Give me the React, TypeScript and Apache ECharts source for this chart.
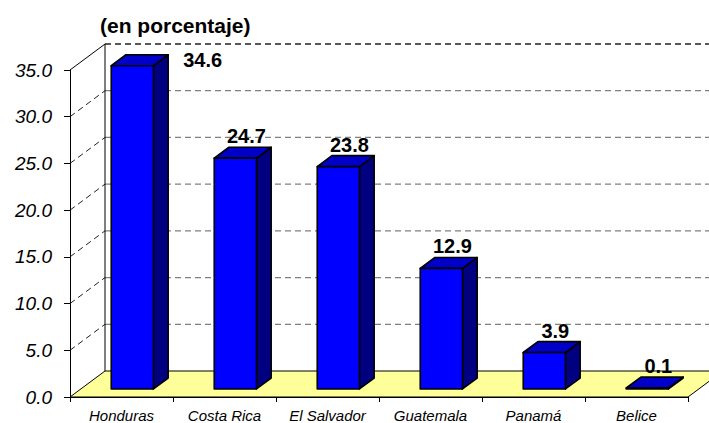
import React, { useEffect, useRef } from "react";
import * as echarts from "echarts";

const categories = ["Honduras", "Costa Rica", "El Salvador", "Guatemala", "Panamá", "Belice"];
const values = [34.6, 24.7, 23.8, 12.9, 3.9, 0.1];
const yTicks = [0, 5, 10, 15, 20, 25, 30, 35];
const titleText = "(en porcentaje)";

const FONT = "'Liberation Sans', Arial, Helvetica, sans-serif";
const DEPTH_X = 35;
const DEPTH_Y = -26;
const BAR_FRONT = 0.31;
const BAR_DEPTH = 0.42;
const BAR_WIDTH = 0.41;

export default function App() {
  const ref = useRef<HTMLDivElement>(null);

  useEffect(() => {
    const chart = echarts.init(ref.current!, null, { renderer: "svg" });
    const yMax = yTicks[yTicks.length - 1];

    const wallsItem = (params: any, api: any) => {
      const cs = params.coordSys;
      const x0 = cs.x;
      const x1 = cs.x + cs.width;
      const yOf = (v: number) => api.coord([0, v])[1];
      const yb = yOf(0);
      const children: any[] = [];
      children.push({
        type: "polygon",
        shape: { points: [[x0, yb], [x1, yb], [x1 + DEPTH_X, yb + DEPTH_Y], [x0 + DEPTH_X, yb + DEPTH_Y]] },
        style: { fill: "#FFFF99", stroke: "#000", lineWidth: 1 },
      });
      yTicks.forEach((v) => {
        if (v === 0) return;
        const y = yOf(v);
        const top = v === yMax;
        children.push({
          type: "line",
          shape: { x1: x0 + DEPTH_X, y1: y + DEPTH_Y, x2: x1 + DEPTH_X, y2: y + DEPTH_Y },
          style: { stroke: top ? "#222" : "#808080", lineWidth: top ? 1.5 : 1.2, lineDash: [6, 4] },
        });
        children.push({
          type: "line",
          shape: { x1: x0, y1: y, x2: x0 + DEPTH_X, y2: y + DEPTH_Y },
          style: top
            ? { stroke: "#000", lineWidth: 1 }
            : { stroke: "#222", lineWidth: 1, lineDash: [6, 4] },
        });
      });
      children.push({
        type: "line",
        shape: { x1: x0 + DEPTH_X, y1: yb + DEPTH_Y, x2: x0 + DEPTH_X, y2: yOf(yMax) + DEPTH_Y },
        style: { stroke: "#000", lineWidth: 1 },
      });
      return { type: "group", children };
    };

    const barItem = (params: any, api: any) => {
      const idx = api.value(0);
      const val = api.value(1);
      const [cx, yTop] = api.coord([idx, val]);
      const yBase = api.coord([idx, 0])[1];
      const cw = api.size([1, 0])[0];
      const w = cw * BAR_WIDTH;
      const fx = DEPTH_X * BAR_FRONT;
      const fy = DEPTH_Y * BAR_FRONT;
      const dx = DEPTH_X * BAR_DEPTH;
      const dy = DEPTH_Y * BAR_DEPTH;
      const L = cx - w / 2 + fx;
      const R = cx + w / 2 + fx;
      const B = yBase + fy;
      const T = yTop + fy;
      const stroke = { stroke: "#000", lineWidth: 1.6, lineJoin: "round" };
      const backTop = T + dy;
      const text = val.toFixed(1);
      const font = `bold 20px ${FONT}`;
      let label: any;
      if (backTop - 22 < params.coordSys.y + DEPTH_Y) {
        label = {
          type: "text",
          x: R + dx + 15,
          y: (T + backTop) / 2,
          style: { text, font, fill: "#000", align: "left", verticalAlign: "middle", textAlign: "left", textVerticalAlign: "middle" },
        };
      } else {
        label = {
          type: "text",
          x: (L + R) / 2 + 11,
          y: backTop - 1,
          style: { text, font, fill: "#000", align: "center", verticalAlign: "bottom", textAlign: "center", textVerticalAlign: "bottom" },
        };
      }
      return {
        type: "group",
        children: [
          { type: "polygon", shape: { points: [[R, T], [R + dx, T + dy], [R + dx, B + dy], [R, B]] }, style: { fill: "#000080", ...stroke } },
          { type: "polygon", shape: { points: [[L, T], [R, T], [R + dx, T + dy], [L + dx, T + dy]] }, style: { fill: "#0000C8", ...stroke } },
          { type: "polygon", shape: { points: [[L, T], [R, T], [R, B], [L, B]] }, style: { fill: "#0000FF", ...stroke } },
          label,
        ],
      };
    };

    const option: any = {
      animation: false,
      backgroundColor: "#ffffff",
      grid: { left: 70, right: 21, top: 70, bottom: 25 },
      graphic: [
        {
          type: "text",
          left: 100,
          top: 15,
          style: { text: titleText, font: `bold 21px ${FONT}`, fill: "#000" },
        },
      ],
      xAxis: {
        type: "category",
        data: categories,
        boundaryGap: true,
        axisLine: { show: true, lineStyle: { color: "#000", width: 1 } },
        axisTick: { show: true, length: 5, interval: 0, lineStyle: { color: "#000" } },
        axisLabel: { interval: 0, margin: 11, fontSize: 15, fontStyle: "italic", fontFamily: FONT, color: "#000" },
        splitLine: { show: false },
        z: 5,
      },
      yAxis: {
        type: "value",
        min: 0,
        max: yMax,
        interval: 5,
        axisLine: { show: true, lineStyle: { color: "#000", width: 1 } },
        axisTick: { show: true, length: 6, lineStyle: { color: "#000" } },
        axisLabel: {
          margin: 18,
          fontSize: 19,
          fontStyle: "italic",
          fontFamily: FONT,
          color: "#000",
          formatter: (v: number) => v.toFixed(1),
        },
        splitLine: { show: false },
        z: 5,
      },
      series: [
        {
          type: "custom",
          name: "walls",
          renderItem: wallsItem,
          data: [[0, 0]],
          encode: { x: 0, y: 1 },
          clip: false,
          silent: true,
          z: 1,
        },
        {
          type: "custom",
          name: "bars",
          renderItem: barItem,
          data: values.map((v, i) => [i, v]),
          encode: { x: 0, y: 1 },
          clip: false,
          z: 3,
        },
      ],
    };
    chart.setOption(option);
    return () => chart.dispose();
  }, []);

  return <div ref={ref} style={{ position: "absolute", left: 0, top: 0, width: 709, height: 423 }} />;
}
